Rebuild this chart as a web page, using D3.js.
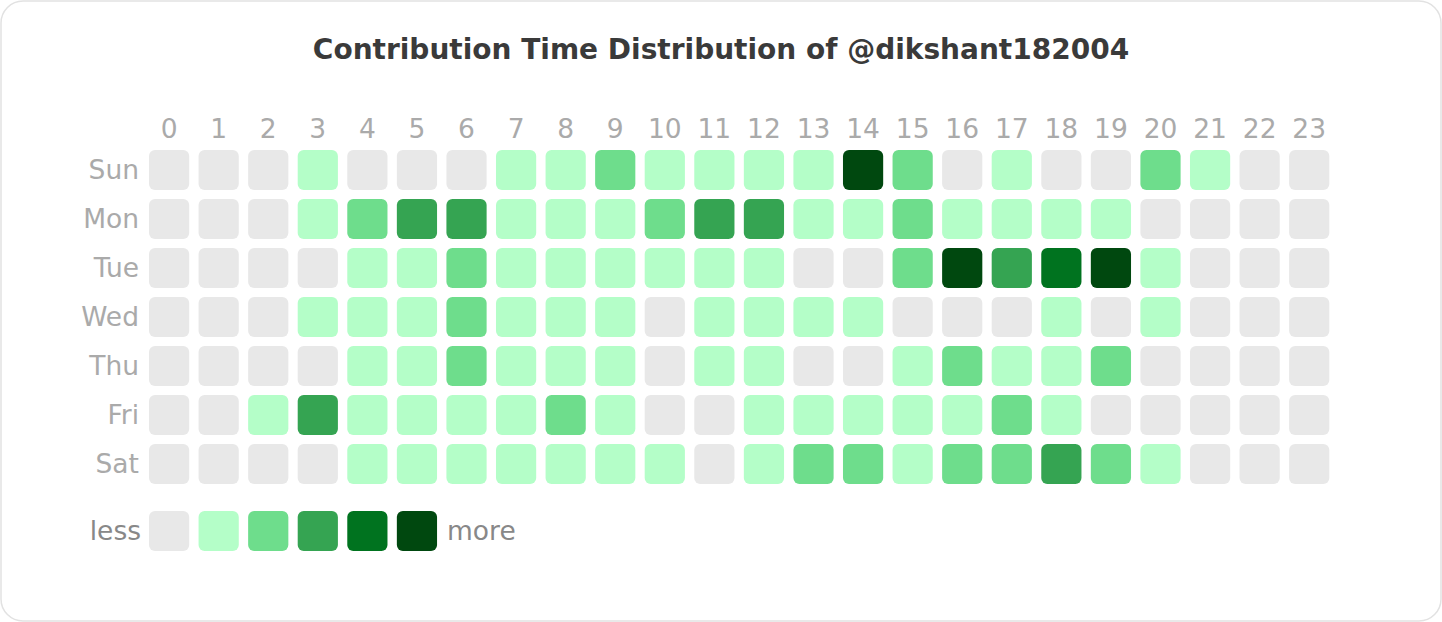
<!DOCTYPE html>
<html>
<head>
<meta charset="utf-8">
<script src="https://cdn.jsdelivr.net/npm/d3@7"></script>
<style>
  html, body { margin: 0; padding: 0; background: #fff; }
  svg { display: block; font-family: "DejaVu Sans", sans-serif; }
</style>
</head>
<body>
<div id="chart"></div>
<script>
// data: contribution level (0..5) per weekday x hour
var days = ["Sun", "Mon", "Tue", "Wed", "Thu", "Fri", "Sat"];
var hours = d3.range(24).map(String);
var levelColors = ["#e8e8e8", "#b4fec8", "#6edd8c", "#35a452", "#00731f", "#00480f"];

var sun = [0, 0, 0, 1, 0, 0, 0, 1, 1, 2, 1, 1, 1, 1, 5, 2, 0, 1, 0, 0, 2, 1, 0, 0];
var mon = [0, 0, 0, 1, 2, 3, 3, 1, 1, 1, 2, 3, 3, 1, 1, 2, 1, 1, 1, 1, 0, 0, 0, 0];
var tue = [0, 0, 0, 0, 1, 1, 2, 1, 1, 1, 1, 1, 1, 0, 0, 2, 5, 3, 4, 5, 1, 0, 0, 0];
var wed = [0, 0, 0, 1, 1, 1, 2, 1, 1, 1, 0, 1, 1, 1, 1, 0, 0, 0, 1, 0, 1, 0, 0, 0];
var thu = [0, 0, 0, 0, 1, 1, 2, 1, 1, 1, 0, 1, 1, 0, 0, 1, 2, 1, 1, 2, 0, 0, 0, 0];
var fri = [0, 0, 1, 3, 1, 1, 1, 1, 2, 1, 0, 0, 1, 1, 1, 1, 1, 2, 1, 0, 0, 0, 0, 0];
var sat = [0, 0, 0, 0, 1, 1, 1, 1, 1, 1, 1, 0, 1, 2, 2, 1, 2, 2, 3, 2, 1, 0, 0, 0];
var levels = [sun, mon, tue, wed, thu, fri, sat];

var width = 1442, height = 622;
var stepX = 49.57, cellW = 40.2;
var stepY = 49, cellH = 40;

var svg = d3.select("#chart")
    .append("svg")
    .attr("width", width)
    .attr("height", height);

// card
svg.append("rect")
    .attr("x", 1).attr("y", 1)
    .attr("width", width - 2).attr("height", height - 2)
    .attr("rx", 22)
    .style("fill", "#fff")
    .style("stroke", "#e2e2e2")
    .style("stroke-width", 1.5);

svg.append("text")
    .attr("x", width / 2)
    .attr("y", 59)
    .attr("text-anchor", "middle")
    .style("font-size", "28px")
    .style("font-weight", "bold")
    .style("fill", "#3a3a3a")
    .text("Contribution Time Distribution of @dikshant182004");

var padX = 1 - cellW / stepX;
var padY = 1 - cellH / stepY;

var x = d3.scaleBand()
    .domain(hours)
    .range([149, 149 + stepX * (hours.length - padX)])
    .paddingInner(padX)
    .paddingOuter(0);

var y = d3.scaleBand()
    .domain(days)
    .range([150, 150 + stepY * (days.length - padY)])
    .paddingInner(padY)
    .paddingOuter(0);

var color = d3.scaleOrdinal().domain(d3.range(6)).range(levelColors);

var g = svg.append("g");

// hour labels
g.selectAll(".hour")
    .data(hours)
    .enter()
    .append("text")
    .attr("class", "hour")
    .attr("x", function (d) { return x(d) + x.bandwidth() / 2; })
    .attr("y", 138)
    .attr("text-anchor", "middle")
    .style("font-size", "26.5px")
    .style("fill", "#aaaaaa")
    .text(function (d) { return d; });

// day labels
g.selectAll(".day")
    .data(days)
    .enter()
    .append("text")
    .attr("class", "day")
    .attr("x", 139)
    .attr("y", function (d) { return y(d) + y.bandwidth() / 2; })
    .attr("dy", "0.35em")
    .attr("text-anchor", "end")
    .style("font-size", "26.5px")
    .style("fill", "#aaaaaa")
    .text(function (d) { return d; });

var cells = [];
levels.forEach(function (row, i) {
    row.forEach(function (v, h) {
        cells.push({ day: days[i], hour: hours[h], level: v });
    });
});

g.selectAll(".cell")
    .data(cells)
    .enter()
    .append("rect")
    .attr("class", "cell")
    .attr("x", function (d) { return x(d.hour); })
    .attr("y", function (d) { return y(d.day); })
    .attr("width", x.bandwidth())
    .attr("height", y.bandwidth())
    .attr("rx", 6)
    .style("fill", function (d) { return color(d.level); });

// legend
var legendY = 511;
g.selectAll(".legend")
    .data(d3.range(6))
    .enter()
    .append("rect")
    .attr("class", "legend")
    .attr("x", function (d) { return x(hours[d]); })
    .attr("y", legendY)
    .attr("width", x.bandwidth())
    .attr("height", y.bandwidth())
    .attr("rx", 6)
    .style("fill", function (d) { return color(d); });

g.append("text")
    .attr("x", 141)
    .attr("y", legendY + y.bandwidth() / 2)
    .attr("dy", "0.35em")
    .attr("text-anchor", "end")
    .style("font-size", "26.5px")
    .style("fill", "#888888")
    .text("less");

g.append("text")
    .attr("x", x(hours[5]) + x.bandwidth() + 10)
    .attr("y", legendY + y.bandwidth() / 2)
    .attr("dy", "0.35em")
    .attr("text-anchor", "start")
    .style("font-size", "26.5px")
    .style("fill", "#888888")
    .text("more");
</script>
</body>
</html>
